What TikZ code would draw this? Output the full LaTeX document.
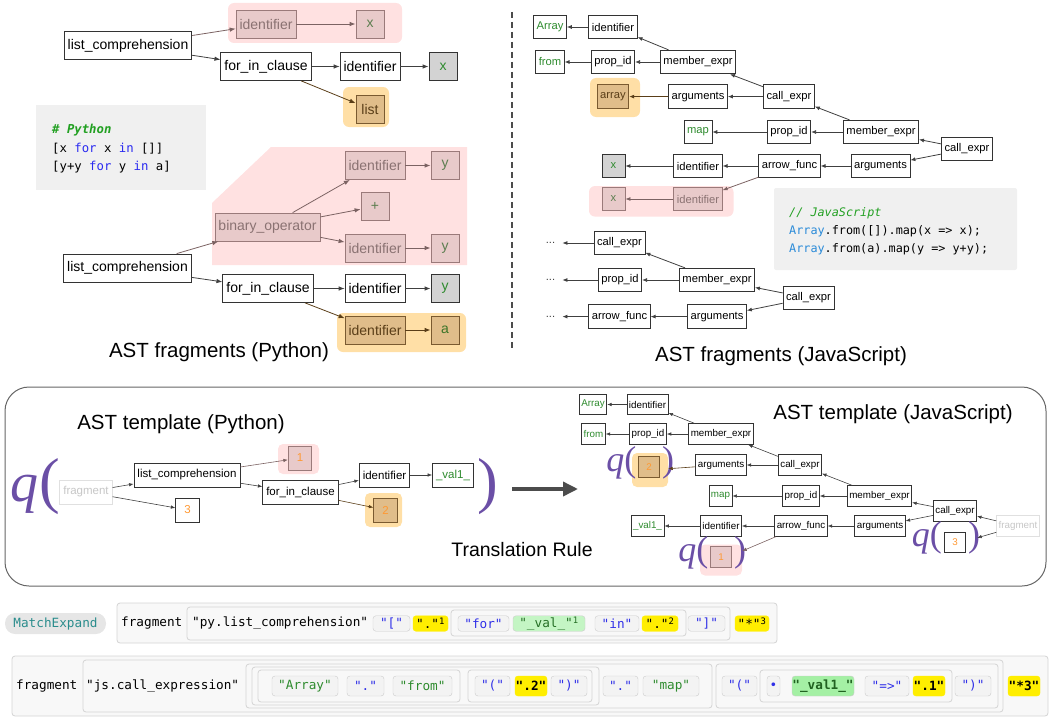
\documentclass[tikz,border=0pt]{standalone}
\usepackage{fontspec}
\setmainfont{Liberation Sans}
\newfontfamily\codefont{DejaVu Sans Mono}
\newfontfamily\qfont{Liberation Serif}
\usetikzlibrary{arrows.meta}

\definecolor{pinkbg}{HTML}{FFE1E1}
\definecolor{pinkfill}{HTML}{E8CACA}
\definecolor{pinkline}{HTML}{9A7A7A}
\definecolor{pinktext}{HTML}{8A7272}
\definecolor{orbg}{HTML}{FFDFA6}
\definecolor{orfill}{HTML}{E0BD8A}
\definecolor{orline}{HTML}{7A5A30}
\definecolor{ortext}{HTML}{5A3E18}
\definecolor{leafgreen}{HTML}{2E8B2E}
\definecolor{leafgray}{HTML}{D3D3D3}
\definecolor{numorange}{HTML}{FF9933}
\definecolor{qpurple}{HTML}{6B4FA6}
\definecolor{codebg}{HTML}{F0F0F0}
\definecolor{kwblue}{HTML}{2A2AF0}
\definecolor{jsblue}{HTML}{2A8AD8}
\definecolor{cmgreen}{HTML}{22A022}
\definecolor{strblue}{HTML}{3030E8}
\definecolor{pillline}{HTML}{CCCCCC}
\definecolor{pillfill}{HTML}{F3F3F3}
\definecolor{hlyellow}{HTML}{FFEE00}
\definecolor{hlgreen}{HTML}{C4F5C4}
\definecolor{hlgreenb}{HTML}{A4F0A4}
\definecolor{frameline}{HTML}{D4D4D4}
\definecolor{framefill}{HTML}{F8F8F8}
\definecolor{matchfill}{HTML}{E6E6E6}
\definecolor{mxteal}{HTML}{2A8C8C}

\tikzset{
    ast/.style={draw=black!80, fill=white, line width=0.8pt, inner ysep=0pt},
    pynode/.style={ast, font=\fontsize{14}{14}\selectfont, minimum height=28pt, minimum width=28pt, inner xsep=3.5pt},
    jsnode/.style={ast, font=\fontsize{11.2}{11.2}\selectfont, minimum height=23.5pt, minimum width=23pt, inner xsep=3pt},
    pytpl/.style={ast, font=\fontsize{11.5}{11.5}\selectfont, minimum height=24pt, minimum width=23.5pt, inner xsep=3.5pt},
    jstpl/.style={ast, font=\fontsize{9.8}{9.8}\selectfont, minimum height=20.5pt, minimum width=20.5pt, inner xsep=2pt},
    tok/.style={text=leafgreen},
    tokgray/.style={fill=leafgray, text=leafgreen},
    inpink/.style={fill=pinkfill, draw=pinkline, text=pinktext},
    tokpink/.style={inpink, text=leafgreen!50!pinktext},
    inorange/.style={fill=orfill, draw=orline, text=ortext},
    hole/.style={text=numorange},
    faded/.style={draw=black!12, text=black!22},
    link/.style={draw=black!75, line width=0.8pt, -{Latex[length=6pt,width=4.5pt]}},
    jslink/.style={link, -{Latex[length=5pt,width=4pt]}},
    tpllink/.style={link, line width=0.6pt, -{Latex[length=4.5pt,width=3.5pt]}},
    pinklink/.style={draw=pinkline!80!black},
    orangelink/.style={draw=ortext},
    zone/.style={inner sep=0pt, rounded corners=5pt},
    pinkzone/.style={zone, fill=pinkbg},
    orangezone/.style={zone, fill=orbg},
    codeline/.style={anchor=base west, inner sep=0pt, font=\codefont\fontsize{12.3}{12.3}\selectfont},
    jscodeline/.style={codeline, font=\codefont\fontsize{11.8}{11.8}\selectfont},
    caption/.style={font=\fontsize{20.5}{20.5}\selectfont},
    qmark/.style={text=qpurple, inner sep=0pt, font=\qfont\fontsize{62}{62}\selectfont},
    qbig/.style={qmark, font=\qfont\itshape\fontsize{56}{56}\selectfont},
    qsmall/.style={qmark, font=\qfont\fontsize{36}{36}\selectfont},
    strbox/.style={draw=frameline, fill=framefill, rounded corners=3pt, line width=0.8pt},
    mono/.style={font=\codefont\fontsize{12.7}{12.7}\selectfont, inner sep=0pt},
    pill/.style={mono, draw=pillline, fill=pillfill, rounded corners=3pt, minimum height=15.5pt, text=strblue},
    tallpill/.style={pill, minimum height=20pt},
    yellowpill/.style={fill=hlyellow, draw=hlyellow, text=black},
    greenpill/.style={fill=hlgreen, text=leafgreen!80!black},
    greentext/.style={text=leafgreen},
    boldmono/.style={font=\codefont\bfseries\fontsize{12.7}{12.7}\selectfont},
}

\begin{document}
\begin{tikzpicture}[x=1pt,y=-1pt]
        \useasboundingbox (0,0) rectangle (1052,717);

        % Python fragments
        \fill[pinkbg, rounded corners=6pt] (228,3) rectangle (402,43);
        \fill[orbg, rounded corners=6pt] (343,87) rectangle (389,127);
        \node[pynode] (lc1) at (128,45.5) {list\_comprehension};
        \node[pynode,inpink] (pid1) at (266,24) {identifier};
        \node[pynode,tokpink] (px1) at (370,24) {x};
        \node[pynode] (fi1) at (266,66.5) {for\_in\_clause};
        \node[pynode] (id1) at (370,66.5) {identifier};
        \node[pynode,tokgray] (x1) at (443,66.5) {x};
        \node[pynode,inorange] (ls1) at (370,109) {list};
        \draw[link,pinklink] (lc1) -- (pid1);
        \draw[link,pinklink] (pid1) -- (px1);
        \draw[link] (lc1) -- (fi1);
        \draw[link] (fi1) -- (id1);
        \draw[link] (id1) -- (x1);
        \draw[link,orangelink] (fi1) -- (ls1);

        \fill[codebg] (36,105) rectangle (206,190);
        \node[codeline] (pyc0) at (52,133) {\color{cmgreen}\bfseries\itshape \# Python};
        \node[codeline] (pyc1) at (52,152) {[x {\color{kwblue}for} x {\color{kwblue}in} []]};
        \node[codeline] (pyc2) at (52,170) {[y+y {\color{kwblue}for} y {\color{kwblue}in} a]};

        \fill[pinkbg] (212,203) -- (271,147) -- (467,147) -- (467,265) -- (212,265) -- cycle;
        \fill[orbg, rounded corners=6pt] (337,313) rectangle (466,352);
        \node[pynode] (lc2) at (127.5,268) {list\_comprehension};
        \node[pynode,inpink] (bo2) at (267.5,227) {binary\_operator};
        \node[pynode,inpink] (pid2) at (375,165.5) {identifier};
        \node[pynode,tokpink] (py2) at (445,165.5) {y};
        \node[pynode,tokpink] (plus2) at (375,206.5) {+};
        \node[pynode,inpink] (pid3) at (375,248) {identifier};
        \node[pynode,tokpink] (py3) at (445,248) {y};
        \node[pynode] (fi2) at (268,288.5) {for\_in\_clause};
        \node[pynode] (id2) at (375,288.5) {identifier};
        \node[pynode,tokgray] (y2) at (445,288.5) {y};
        \node[pynode,inorange] (oid2) at (375,330) {identifier};
        \node[pynode,inorange,text=leafgreen!70!ortext] (oa2) at (445,330) {a};
        \draw[link,pinklink] (lc2) -- (bo2);
        \draw[link,pinklink] (bo2) -- (pid2);
        \draw[link,pinklink] (bo2) -- (plus2);
        \draw[link,pinklink] (bo2) -- (pid3);
        \draw[link,pinklink] (pid2) -- (py2);
        \draw[link,pinklink] (pid3) -- (py3);
        \draw[link] (lc2) -- (fi2);
        \draw[link] (fi2) -- (id2);
        \draw[link] (id2) -- (y2);
        \draw[link,orangelink] (fi2) -- (oid2);
        \draw[link,orangelink] (oid2) -- (oa2);
        \node[caption] (pyfrag) at (219,352) {AST fragments (Python)};

        \coordinate (divtop) at (512,12);
        \coordinate (divbot) at (512,350);
        \draw[black!70, line width=1.2pt, dash pattern=on 6pt off 4pt] (divtop) -- (divbot);

        % JavaScript fragments
        \fill[orbg, rounded corners=6pt] (590,78) rectangle (640,117);
        \fill[pinkbg, rounded corners=6pt] (589,186) rectangle (733.5,216.6);
        \node[jsnode,tok] (jarr) at (550,27) {Array};
        \node[jsnode] (jid) at (613,27) {identifier};
        \node[jsnode,tok] (jfrom) at (550,62) {from};
        \node[jsnode] (jpid) at (613,62) {prop\_id};
        \node[jsnode] (jme) at (698,62) {member\_expr};
        \node[jsnode,inorange] (jarray) at (613,96.6) {array};
        \node[jsnode] (jargs) at (698,96.6) {arguments};
        \node[jsnode] (jce) at (789,96.6) {call\_expr};
        \node[jsnode,tok] (jmap) at (698,132) {map};
        \node[jsnode] (jpid2) at (789,132) {prop\_id};
        \node[jsnode] (jme2) at (881,132) {member\_expr};
        \node[jsnode] (jce2) at (967,149) {call\_expr};
        \node[jsnode,tokgray] (jx) at (613.5,166) {x};
        \node[jsnode] (jid2) at (698,166) {identifier};
        \node[jsnode] (jaf) at (789.5,166) {arrow\_func};
        \node[jsnode] (jargs2) at (880.5,166) {arguments};
        \node[jsnode,tokpink] (jpx) at (613.5,199) {x};
        \node[jsnode,inpink] (jpidf) at (698,199) {identifier};
        \draw[jslink] (jid) -- (jarr);
        \draw[jslink] (jme) -- (jid);
        \draw[jslink] (jme) -- (jpid);
        \draw[jslink] (jpid) -- (jfrom);
        \draw[jslink] (jce) -- (jme);
        \draw[jslink] (jce) -- (jargs);
        \draw[jslink,orangelink] (jargs) -- (jarray);
        \draw[jslink] (jme2) -- (jce);
        \draw[jslink] (jme2) -- (jpid2);
        \draw[jslink] (jpid2) -- (jmap);
        \draw[jslink] (jce2) -- (jme2);
        \draw[jslink] (jce2) -- (jargs2);
        \draw[jslink] (jargs2) -- (jaf);
        \draw[jslink] (jaf) -- (jid2);
        \draw[jslink] (jid2) -- (jx);
        \draw[jslink,pinklink] (jaf) -- (jpidf);
        \draw[jslink,pinklink] (jpidf) -- (jpx);

        \fill[codebg, rounded corners=2pt] (774,188) rectangle (1017,270);
        \node[jscodeline] (jsc0) at (789,216) {\color{cmgreen}\itshape // JavaScript};
        \node[jscodeline] (jsc1) at (789,234) {{\color{jsblue}Array}.from([]).map(x => x);};
        \node[jscodeline] (jsc2) at (789,252) {{\color{jsblue}Array}.from(a).map(y => y+y);};

        \node[jsnode,draw=none,fill=none,text=black!75] (dots1) at (550.5,243) {...};
        \node[jsnode] (jce3) at (619.5,243) {call\_expr};
        \node[jsnode,draw=none,fill=none,text=black!75] (dots2) at (550.5,280) {...};
        \node[jsnode] (jpid3) at (620,280) {prop\_id};
        \node[jsnode] (jme3) at (717,280) {member\_expr};
        \node[jsnode] (jce4) at (808.5,298) {call\_expr};
        \node[jsnode,draw=none,fill=none,text=black!75] (dots3) at (550.5,316.6) {...};
        \node[jsnode] (jaf3) at (619.5,316.6) {arrow\_func};
        \node[jsnode] (jargs3) at (717,316.6) {arguments};
        \draw[jslink] (jce3) -- (dots1);
        \draw[jslink] (jme3) -- (jce3);
        \draw[jslink] (jme3) -- (jpid3);
        \draw[jslink] (jpid3) -- (dots2);
        \draw[jslink] (jce4) -- (jme3);
        \draw[jslink] (jce4) -- (jargs3);
        \draw[jslink] (jargs3) -- (jaf3);
        \draw[jslink] (jaf3) -- (dots3);
        \node[caption] (jsfrag) at (781,356) {AST fragments (JavaScript)};

        % translation rule
        \draw[black!60, line width=1pt, rounded corners=24pt] (5,387) rectangle (1046,586);
        \node[caption] (pyhead) at (181,424) {AST template (Python)};
        \fill[pinkbg, rounded corners=5pt] (278,444) rectangle (319,474);
        \fill[orbg, rounded corners=5pt] (365,493) rectangle (402,527);
        \node[pytpl,faded] (tfr) at (86,492) {fragment};
        \node[pytpl] (tlc) at (187,475) {list\_comprehension};
        \node[pytpl,inpink,hole] (t1) at (300,458) {1};
        \node[pytpl,hole] (t3) at (187.5,510) {3};
        \node[pytpl] (tfi) at (300.5,492.5) {for\_in\_clause};
        \node[pytpl] (tid) at (384.5,475) {identifier};
        \node[pytpl,tok] (tval) at (453,475) {\_val1\_};
        \node[pytpl,inorange,hole] (t2) at (385.5,510) {2};
        \node[qmark,anchor=base east] (tqo) at (60,501) {(};
        \node[qbig,anchor=base east] (tq) at (tqo.base west) {q};
        \node[qmark,anchor=base west] (tqc) at (477,501) {)};
        \draw[tpllink] (tfr) -- (tlc);
        \draw[tpllink] (tfr) -- (t3);
        \draw[tpllink,pinklink] (tlc) -- (t1);
        \draw[tpllink] (tlc) -- (tfi);
        \draw[tpllink] (tfi) -- (tid);
        \draw[tpllink] (tid) -- (tval);
        \draw[tpllink,orangelink] (tfi) -- (t2);

        \coordinate (rulefrom) at (512,489);
        \coordinate (ruleto) at (578,489);
        \draw[black!70, line width=3.5pt, -{Triangle[length=15pt,width=14pt]}] (rulefrom) -- (ruleto);
        \node[caption,font=\fontsize{19.5}{19.5}\selectfont] (rulename) at (522,550) {Translation Rule};

        \node[caption] (jshead) at (893,414) {AST template (JavaScript)};
        \node[orangezone, minimum width=36pt, minimum height=34pt] (jq2) at (650,470) {};
        \node[pinkzone, minimum width=42pt, minimum height=31pt] (jq1) at (721,560) {};
        \node[jstpl,tok] (tjarr) at (593,404.5) {Array};
        \node[jstpl] (tjid) at (647.5,404.5) {identifier};
        \node[jstpl,tok] (tjfrom) at (593.5,434) {from};
        \node[jstpl] (tjpid) at (648,434) {prop\_id};
        \node[jstpl] (tjme) at (721,434) {member\_expr};
        \node[jstpl,inorange,hole] (tj2) at (649,467) {2};
        \node[jstpl] (tjargs) at (721,465) {arguments};
        \node[jstpl] (tjce) at (800,465) {call\_expr};
        \node[jstpl,tok] (tjmap) at (720.5,496) {map};
        \node[jstpl] (tjpid2) at (801,496) {prop\_id};
        \node[jstpl] (tjme2) at (879.5,496) {member\_expr};
        \node[jstpl] (tjce2) at (955,511) {call\_expr};
        \node[jstpl,faded] (tjfr) at (1018,526) {fragment};
        \node[jstpl,tok] (tjval) at (647.5,526) {\_val1\_};
        \node[jstpl] (tjid2) at (721,526) {identifier};
        \node[jstpl] (tjaf) at (801,526) {arrow\_func};
        \node[jstpl] (tjargs2) at (880,526) {arguments};
        \node[jstpl,inpink,hole] (tj1) at (721,557) {1};
        \node[jstpl,hole] (tj3) at (955,542.5) {3};
        \node[inner sep=0pt, minimum width=32pt, minimum height=21pt] (jg3) at (961,542.5) {};
        \node[qsmall,anchor=base east] (q2o) at (636.5,471) {{\itshape q}(};
        \node[qsmall,anchor=base west] (q2c) at (662,471) {)};
        \node[qsmall,anchor=base east] (q1o) at (708.5,561) {{\itshape q}(};
        \node[qsmall,anchor=base west] (q1c) at (734,561) {)};
        \node[qsmall,anchor=base east] (q3o) at (942,546.5) {{\itshape q}(};
        \node[qsmall,anchor=base west] (q3c) at (968,546.5) {)};
        \draw[tpllink] (tjid) -- (tjarr);
        \draw[tpllink] (tjme) -- (tjid);
        \draw[tpllink] (tjme) -- (tjpid);
        \draw[tpllink] (tjpid) -- (tjfrom);
        \draw[tpllink] (tjce) -- (tjme);
        \draw[tpllink] (tjce) -- (tjargs);
        \draw[tpllink,orangelink] (tjargs) -- (jq2);
        \draw[tpllink] (tjme2) -- (tjce);
        \draw[tpllink] (tjme2) -- (tjpid2);
        \draw[tpllink] (tjpid2) -- (tjmap);
        \draw[tpllink] (tjce2) -- (tjme2);
        \draw[tpllink] (tjce2) -- (tjargs2);
        \draw[tpllink] (tjargs2) -- (tjaf);
        \draw[tpllink] (tjaf) -- (tjid2);
        \draw[tpllink] (tjid2) -- (tjval);
        \draw[tpllink,pinklink] (tjaf) -- (jq1);
        \draw[tpllink] (tjfr) -- (tjce2);
        \draw[tpllink] (tjfr) -- (jg3);

        % match expand strip
        \node[mono, fill=matchfill, rounded corners=10pt, minimum width=101pt, minimum height=21pt, text=mxteal] (mexp) at (55.5,623.5) {MatchExpand};
        \draw[strbox] (117,603) rectangle (777,643);
        \draw[strbox] (187,607) rectangle (730,640);
        \draw[strbox] (451,610) rectangle (686,636);
        \node[mono,anchor=west] (s1frag) at (121,623.5) {fragment};
        \node[mono,anchor=west] (s1kind) at (192,623.5) {"py.list\_comprehension"};
        \node[pill, minimum width=37pt] (s1a) at (391.5,623.5) {"["};
        \node[pill, yellowpill, minimum width=35pt] (s1b) at (430.5,623.5) {"."\textsuperscript{1}};
        \node[pill, minimum width=51pt] (s1c) at (483.5,623.5) {"for"};
        \node[pill, greenpill, minimum width=72pt] (s1d) at (549,623.5) {"\_val\_"\textsuperscript{1}};
        \node[pill, minimum width=44pt] (s1e) at (617,623.5) {"in"};
        \node[pill, yellowpill, minimum width=36pt] (s1f) at (660,623.5) {"."\textsuperscript{2}};
        \node[pill, minimum width=37pt] (s1g) at (706.5,623.5) {"]"};
        \node[pill, yellowpill, minimum width=34pt] (s1h) at (752,623.5) {"*"\textsuperscript{3}};

        \draw[strbox] (12,656) rectangle (1048,716);
        \draw[strbox] (83,660) rectangle (1003,712);
        \draw[strbox] (246,664) rectangle (712,708);
        \draw[strbox] (252,667) rectangle (599,705);
        \draw[strbox] (258,670) rectangle (460,702);
        \draw[strbox] (468,670) rectangle (592,702);
        \draw[strbox] (716,664) rectangle (998,708);
        \draw[strbox] (760,670) rectangle (952,702);
        \node[mono,anchor=west] (s2frag) at (16,686) {fragment};
        \node[mono,anchor=west] (s2kind) at (86,686) {"js.call\_expression"};
        \node[tallpill, greentext, minimum width=66pt] (s2a) at (305,686) {"Array"};
        \node[tallpill, minimum width=37pt] (s2b) at (365.5,686) {"."};
        \node[tallpill, greentext, minimum width=59pt] (s2c) at (422.5,686) {"from"};
        \node[tallpill, minimum width=35pt] (s2d) at (492.5,686) {"("};
        \node[tallpill, yellowpill, boldmono, minimum width=32pt] (s2e) at (531,686) {".2"};
        \node[tallpill, minimum width=36pt] (s2f) at (569,686) {")"};
        \node[tallpill, minimum width=35pt] (s2g) at (620.5,686) {"."};
        \node[tallpill, greentext, minimum width=56pt] (s2h) at (671,686) {"map"};
        \node[tallpill, minimum width=35pt] (s2i) at (739.5,686) {"("};
        \node[tallpill, minimum width=13pt] (s2j) at (773.5,686) {•};
        \node[tallpill, boldmono, fill=hlgreenb, text=leafgreen!70!black, minimum width=62pt] (s2k) at (823,686) {"\_val1\_"};
        \node[tallpill, minimum width=44pt] (s2l) at (887,686) {"=>"};
        \node[tallpill, yellowpill, boldmono, minimum width=32pt] (s2m) at (929,686) {".1"};
        \node[tallpill, minimum width=36pt] (s2n) at (973,686) {")"};
        \node[tallpill, yellowpill, boldmono, minimum width=32pt] (s2o) at (1024,686) {"*3"};
\end{tikzpicture}
\end{document}
